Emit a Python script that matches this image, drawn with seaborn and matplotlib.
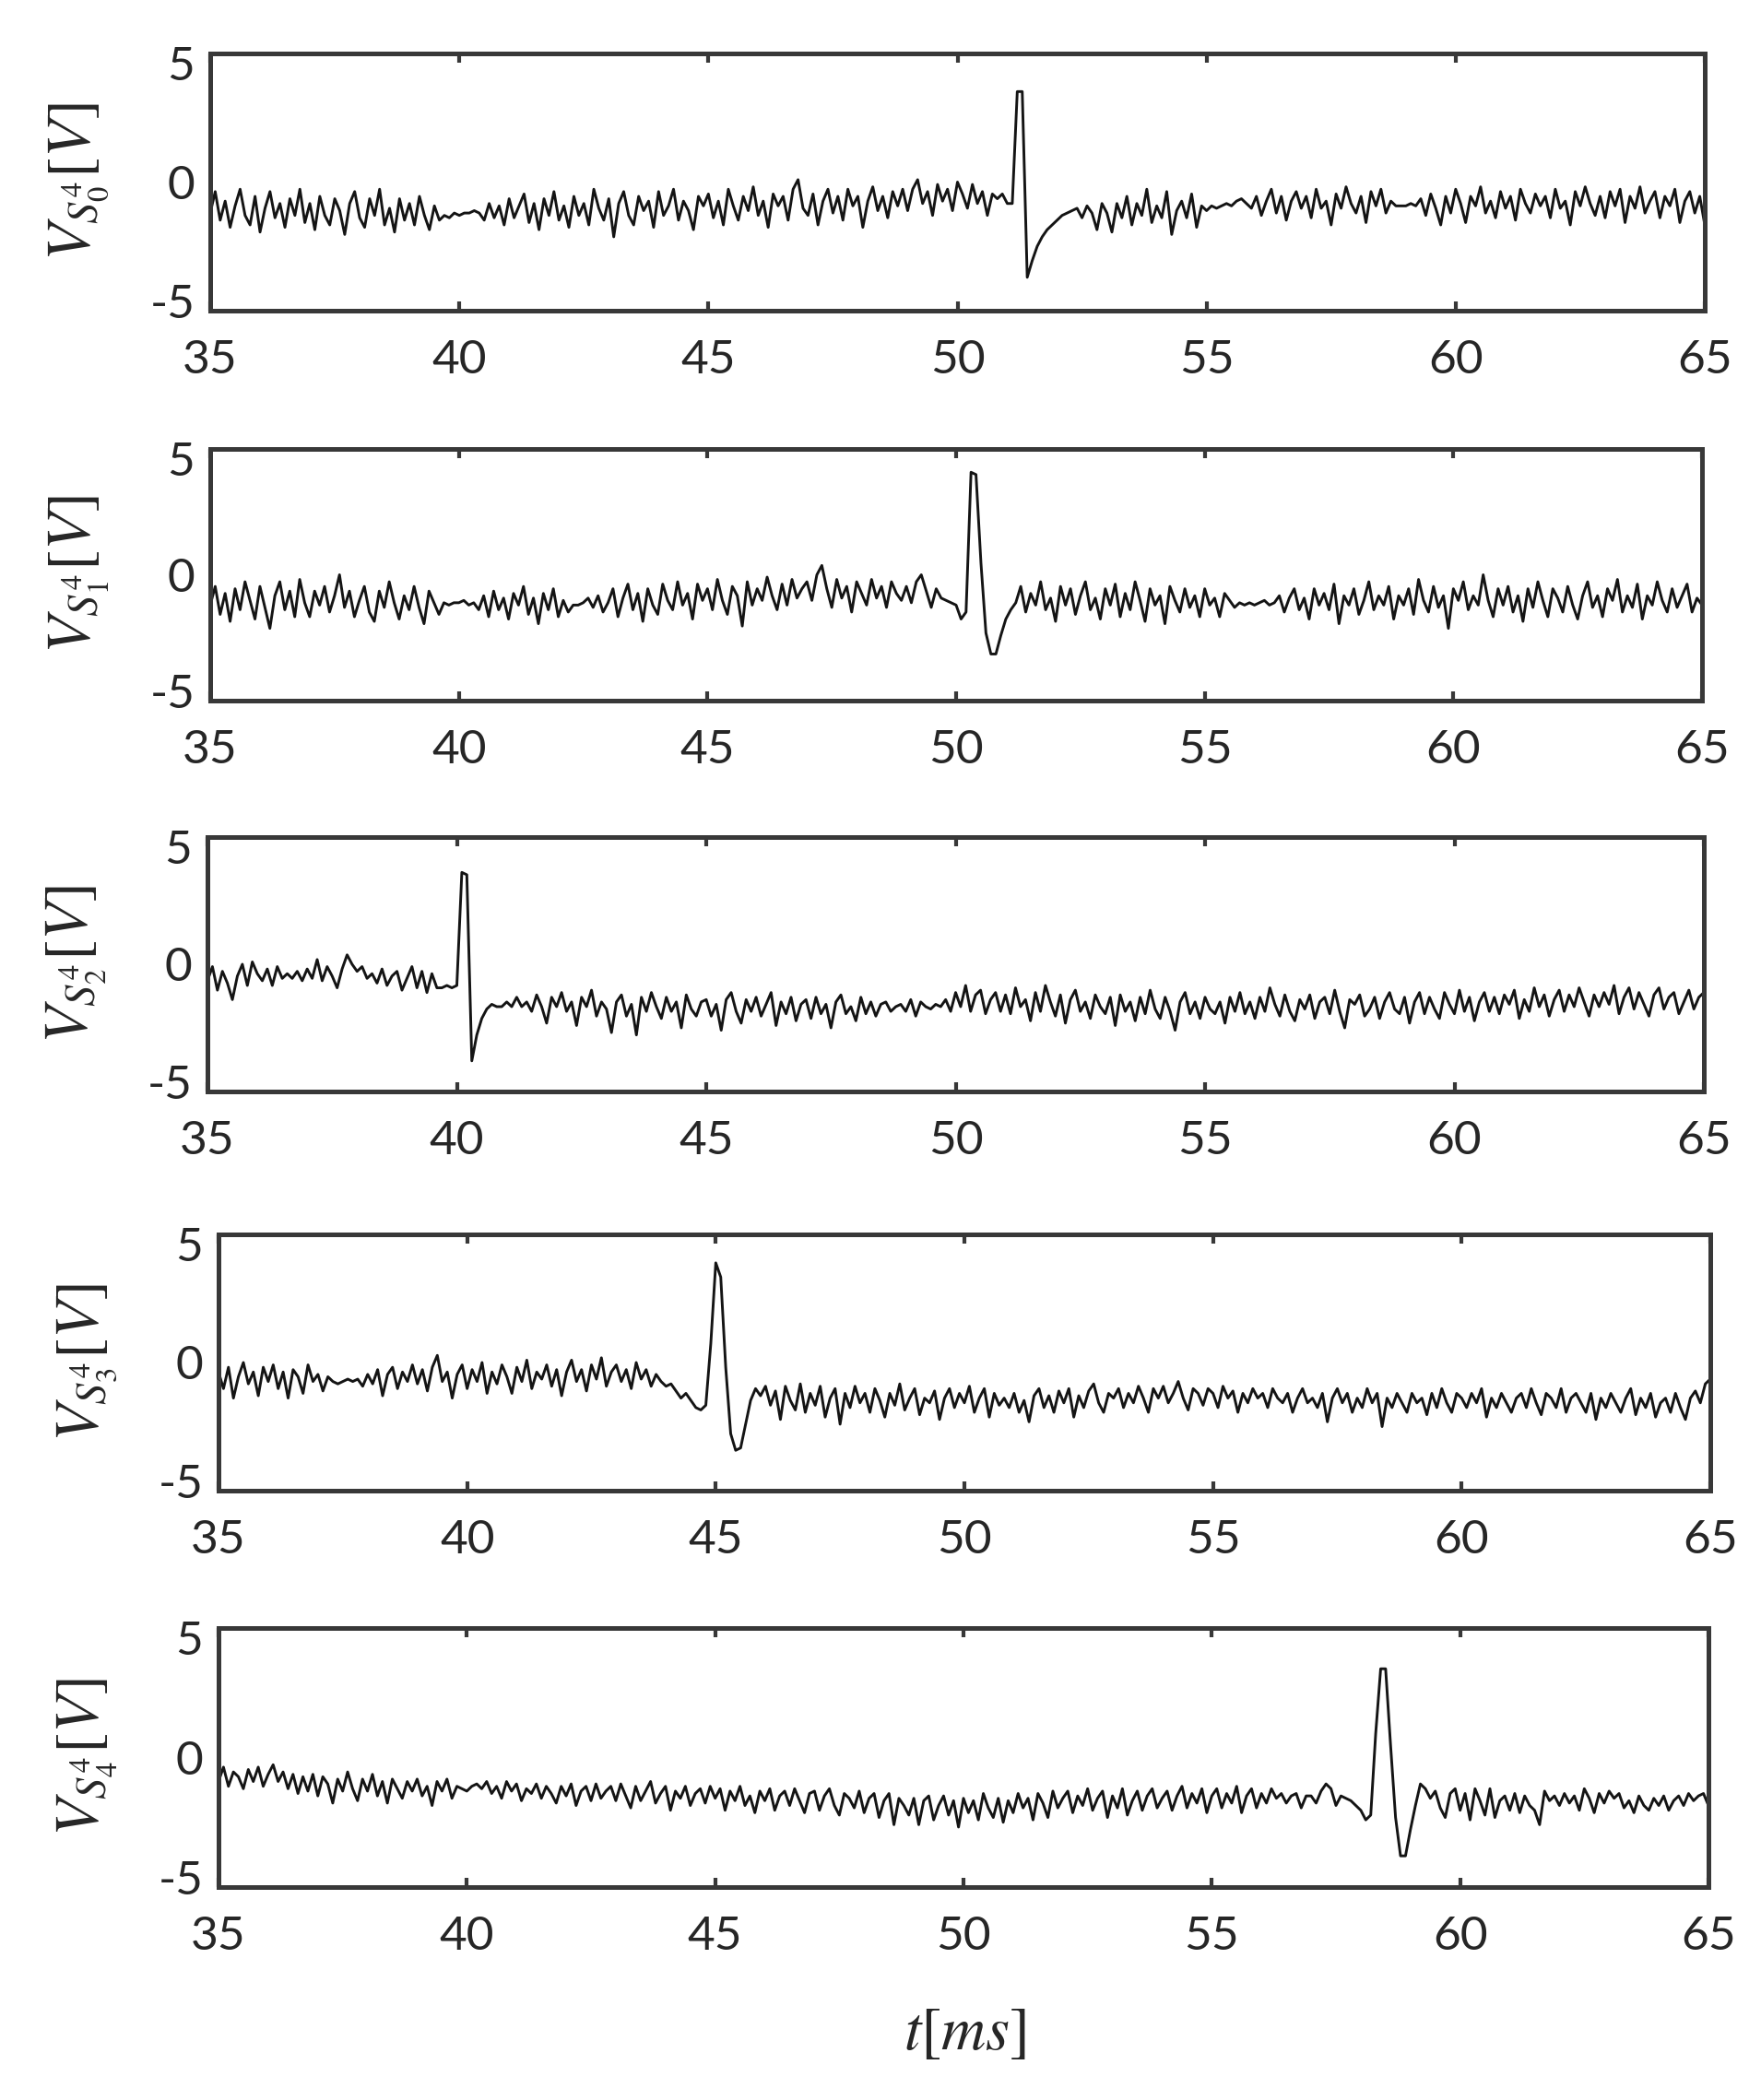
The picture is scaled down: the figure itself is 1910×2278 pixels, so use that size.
import numpy as np
import matplotlib
matplotlib.use("Agg")
import matplotlib.pyplot as plt
import seaborn as sns

# time axis in ms (sampled every 0.1 ms)
t = np.round(np.arange(350, 651) / 10, 1)

s0 = [-1.3,-0.4,-1.6,-0.8,-1.9,-1.0,-0.3,-1.4,-1.8,-0.6,-2.1,-1.1,-0.4,-1.5,-0.9,-1.9,-0.7,-1.4,-0.3,-1.7,
      -0.9,-2.0,-0.6,-1.4,-1.8,-0.7,-1.2,-2.2,-0.9,-0.4,-1.5,-1.9,-0.7,-1.4,-0.3,-1.8,-1.1,-2.1,-0.7,-1.6,
      -0.9,-1.8,-0.6,-1.4,-2.0,-1.0,-1.6,-1.4,-1.5,-1.3,-1.4,-1.3,-1.3,-1.2,-1.3,-1.6,-0.9,-1.5,-1.0,-1.8,
      -0.7,-1.5,-1.0,-0.5,-1.7,-0.9,-2.0,-0.7,-1.4,-0.4,-1.6,-1.0,-1.9,-0.6,-1.4,-0.9,-1.8,-0.3,-1.1,-1.6,
      -0.7,-2.3,-0.9,-0.4,-1.4,-1.8,-0.6,-1.2,-0.8,-1.9,-0.4,-1.4,-1.0,-0.3,-1.6,-0.8,-1.2,-2.0,-0.6,-1.0,
      -0.5,-1.5,-0.8,-1.8,-0.3,-1.0,-1.6,-0.6,-1.2,-0.2,-1.4,-0.8,-1.9,-0.5,-1.0,-0.6,-1.6,-0.3,0.1,-1.1,
      -1.4,-0.5,-1.8,-0.8,-0.3,-1.3,-0.6,-1.6,-0.3,-1.0,-0.6,-1.9,-0.8,-0.2,-1.2,-0.6,-1.5,-0.4,-1.0,-0.3,
      -1.2,-0.3,0.1,-0.9,-0.4,-1.4,-0.1,-0.8,-0.3,-1.2,0.0,-0.5,-1.1,-0.1,-0.9,-0.4,-1.4,-0.5,-0.7,-0.5,
      -0.9,-0.9,3.8,3.8,-4.0,-3.3,-2.7,-2.3,-2.0,-1.8,-1.6,-1.4,-1.3,-1.2,-1.1,-1.5,-1.0,-1.3,-2.0,-0.9,
      -1.3,-2.1,-0.9,-1.5,-0.6,-1.8,-0.9,-1.4,-0.3,-1.7,-1.0,-1.5,-0.4,-2.2,-1.2,-0.8,-1.5,-0.5,-1.9,-1.0,
      -1.2,-1.0,-1.1,-1.0,-0.9,-1.0,-0.8,-0.7,-0.9,-1.1,-0.6,-1.4,-0.8,-0.3,-1.3,-0.6,-1.6,-0.8,-0.4,-1.1,
      -0.6,-1.5,-0.3,-1.1,-0.8,-1.8,-0.5,-1.1,-0.2,-0.9,-1.3,-0.6,-1.7,-0.4,-1.0,-0.3,-1.3,-0.8,-1.0,-1.0,
      -1.0,-0.9,-1.0,-0.7,-1.4,-0.5,-1.1,-1.8,-0.6,-1.3,-0.3,-0.9,-1.7,-0.6,-1.0,-0.2,-1.3,-0.8,-1.5,-0.4,
      -1.1,-0.6,-1.6,-0.3,-0.9,-1.3,-0.5,-1.0,-0.6,-1.5,-0.3,-1.1,-0.8,-1.8,-0.4,-1.0,-0.2,-0.9,-1.4,-0.6,
      -1.5,-0.4,-1.0,-0.3,-1.7,-0.6,-1.1,-0.2,-1.3,-0.8,-0.4,-1.5,-0.6,-1.0,-0.3,-1.7,-0.8,-0.4,-1.3,-0.6,
      -1.8]

s1 = [-1.3,-0.5,-1.7,-0.8,-2.0,-0.6,-1.5,-0.3,-1.1,-1.9,-0.5,-1.4,-2.3,-0.9,-0.3,-1.5,-0.7,-1.8,-0.2,-1.2,
      -1.8,-0.7,-1.3,-0.5,-1.6,-0.9,0.0,-1.4,-0.7,-1.8,-1.1,-0.5,-1.6,-2.0,-0.7,-1.4,-0.3,-1.2,-1.9,-0.9,
      -1.5,-0.5,-1.4,-2.1,-0.7,-1.2,-1.7,-1.2,-1.3,-1.2,-1.2,-1.1,-1.3,-1.2,-1.5,-0.9,-1.8,-0.7,-1.5,-1.0,
      -1.9,-0.8,-1.3,-0.5,-1.7,-1.0,-2.1,-0.8,-1.5,-0.6,-1.8,-1.1,-1.6,-1.3,-1.3,-1.2,-1.0,-1.4,-0.9,-1.6,
      -1.2,-0.6,-1.8,-1.0,-0.4,-1.5,-0.8,-2.0,-0.6,-1.3,-1.7,-0.4,-1.1,-1.5,-0.3,-1.3,-0.8,-1.9,-0.4,-1.1,
      -0.6,-1.5,-0.2,-1.1,-1.7,-0.5,-0.9,-2.2,-0.3,-1.3,-0.6,-1.1,-0.1,-0.9,-1.5,-0.4,-1.3,-0.2,-1.0,-0.6,
      -0.3,-1.1,0.0,0.4,-0.6,-1.4,-0.2,-1.0,-0.5,-1.6,-0.3,-0.8,-1.3,-0.2,-1.0,-0.5,-1.4,-0.3,-0.8,-1.1,
      -0.5,-1.2,-0.3,0.0,-0.7,-1.4,-0.6,-1.0,-1.1,-1.2,-1.3,-1.9,-1.6,4.4,4.3,0.5,-2.5,-3.4,-3.4,-2.6,
      -1.9,-1.5,-1.2,-0.5,-1.6,-0.8,-1.3,-0.3,-1.5,-1.0,-2.0,-0.5,-1.3,-0.6,-1.7,-0.9,-0.3,-1.5,-1.0,-1.9,
      -0.6,-1.3,-0.4,-1.8,-0.8,-1.5,-0.3,-1.1,-2.0,-0.6,-1.3,-0.9,-2.1,-0.5,-1.1,-1.6,-0.6,-1.4,-0.9,-1.8,
      -0.6,-1.3,-1.0,-1.8,-0.8,-1.1,-1.4,-1.2,-1.3,-1.2,-1.3,-1.2,-1.1,-1.3,-1.2,-0.9,-1.6,-1.0,-0.6,-1.5,
      -1.0,-1.9,-0.6,-1.3,-0.8,-1.5,-0.4,-2.1,-0.9,-1.3,-0.6,-1.7,-1.1,-0.3,-1.5,-0.9,-1.3,-0.5,-1.9,-0.9,
      -1.3,-0.6,-1.7,-0.2,-1.1,-1.6,-0.5,-1.4,-0.9,-2.3,-0.6,-1.1,-0.3,-1.5,-0.9,-1.3,0.0,-1.1,-1.8,-0.6,
      -1.3,-0.5,-1.6,-0.9,-2.0,-0.6,-1.4,-0.3,-1.1,-1.8,-0.6,-1.0,-1.6,-0.5,-1.3,-1.9,-0.9,-0.3,-1.4,-0.9,
      -1.8,-0.6,-1.1,-0.2,-1.6,-0.9,-1.4,-0.4,-1.9,-0.9,-1.3,-0.3,-1.1,-1.6,-0.6,-1.4,-0.9,-0.4,-1.6,-1.0,
      -1.3]

s2 = [-0.7,-0.1,-1.1,-0.3,-0.8,-1.5,-0.5,0.0,-0.9,0.1,-0.4,-0.7,-0.2,-0.9,-0.1,-0.6,-0.4,-0.6,-0.3,-0.7,
      -0.2,-0.6,0.2,-0.7,-0.1,-0.5,-1.0,-0.2,0.4,0.0,-0.3,-0.1,-0.6,-0.4,-0.8,-0.2,-0.9,-0.5,-0.3,-1.1,
      -0.6,-0.1,-1.0,-0.3,-1.2,-0.4,-1.0,-1.0,-0.9,-1.0,-0.9,3.9,3.8,-4.1,-3.0,-2.3,-1.9,-1.7,-1.8,-1.8,
      -1.6,-1.8,-1.4,-1.8,-1.6,-2.0,-1.3,-1.8,-2.5,-1.4,-1.8,-1.2,-2.0,-1.6,-2.6,-1.4,-1.8,-1.1,-2.2,-1.6,
      -1.9,-2.9,-1.6,-1.3,-2.2,-1.7,-3.0,-1.4,-2.0,-1.2,-1.8,-2.3,-1.4,-2.0,-1.6,-2.7,-1.3,-1.9,-2.2,-1.6,
      -1.5,-2.2,-1.7,-2.8,-1.5,-1.2,-2.0,-2.5,-1.5,-2.0,-1.4,-2.2,-1.7,-1.2,-2.6,-1.6,-2.1,-1.4,-2.4,-1.7,
      -1.5,-2.3,-1.4,-2.1,-1.7,-2.7,-1.6,-1.3,-2.1,-1.8,-2.4,-1.4,-2.1,-1.6,-2.2,-1.7,-1.6,-2.0,-1.8,-1.7,
      -2.0,-1.5,-2.2,-1.6,-1.8,-1.9,-1.7,-1.8,-1.5,-2.0,-1.2,-1.8,-0.9,-2.0,-1.3,-1.1,-2.1,-1.5,-1.2,-2.0,
      -1.3,-2.1,-1.0,-1.8,-1.5,-2.4,-1.2,-2.0,-0.9,-1.6,-2.2,-1.3,-2.5,-1.5,-1.1,-2.0,-1.6,-2.3,-1.3,-1.8,
      -2.1,-1.4,-2.6,-1.3,-2.0,-1.6,-2.4,-1.4,-2.1,-1.1,-1.9,-2.3,-1.4,-2.0,-2.8,-1.6,-1.2,-2.1,-1.6,-2.3,
      -1.4,-1.9,-2.1,-1.6,-2.5,-1.4,-2.0,-1.2,-2.1,-1.6,-2.3,-1.4,-2.0,-1.0,-1.7,-2.2,-1.3,-2.0,-2.4,-1.5,
      -1.9,-1.3,-2.3,-1.6,-1.4,-2.1,-1.1,-2.0,-2.7,-1.5,-1.7,-1.3,-2.2,-1.9,-1.4,-2.3,-1.6,-1.2,-1.9,-2.1,
      -1.4,-2.5,-1.6,-1.2,-2.1,-1.4,-1.9,-2.3,-1.2,-1.7,-2.1,-1.1,-2.0,-1.4,-2.4,-1.6,-1.2,-2.0,-1.4,-2.1,
      -1.3,-1.7,-1.1,-2.3,-1.5,-2.0,-1.0,-1.8,-1.3,-2.2,-1.5,-1.1,-2.0,-1.3,-1.8,-1.0,-1.6,-2.2,-1.3,-1.8,
      -1.2,-1.7,-0.9,-2.1,-1.4,-1.0,-1.9,-1.2,-1.7,-2.2,-1.3,-1.0,-1.9,-1.4,-1.2,-2.1,-1.6,-1.1,-1.9,-1.4,
      -1.2]

s3 = [-0.4,-1.1,-0.2,-1.5,-0.6,0.0,-0.9,-0.4,-1.4,-0.2,-0.8,-0.1,-1.1,-0.4,-1.5,-0.3,-0.6,-1.3,-0.1,-0.8,
      -0.5,-1.2,-0.6,-0.8,-0.9,-0.8,-0.7,-0.8,-0.7,-1.0,-0.5,-0.9,-0.3,-1.4,-0.5,-0.2,-1.1,-0.4,-0.8,-0.1,
      -0.9,-0.3,-1.2,-0.2,0.3,-0.8,-0.4,-1.5,-0.5,-0.1,-1.1,-0.3,-0.8,0.0,-1.3,-0.4,-0.9,-0.1,-0.6,-1.3,
      -0.2,-0.8,0.1,-1.1,-0.4,-0.7,-0.1,-1.0,-0.3,-1.4,-0.4,0.1,-0.8,-0.3,-1.2,-0.1,-0.7,0.2,-1.0,-0.4,
      -0.1,-0.8,-0.3,-1.1,0.0,-0.7,-0.3,-1.0,-0.5,-0.8,-1.0,-0.9,-1.2,-1.5,-1.3,-1.6,-1.9,-2.0,-1.8,0.8,
      4.2,3.6,-0.2,-3.0,-3.7,-3.6,-2.6,-1.6,-1.1,-1.4,-1.0,-1.8,-1.2,-2.4,-1.0,-1.6,-2.0,-0.9,-2.1,-1.3,
      -1.8,-1.0,-2.3,-1.5,-1.1,-2.6,-1.3,-1.9,-1.0,-1.7,-1.3,-2.1,-1.1,-1.6,-2.3,-1.3,-1.8,-0.9,-2.0,-1.5,
      -1.1,-2.2,-1.5,-1.7,-1.2,-2.4,-1.5,-1.1,-1.9,-1.3,-1.7,-1.0,-2.1,-1.5,-1.1,-2.3,-1.3,-1.8,-1.5,-1.9,
      -1.3,-2.1,-1.6,-2.5,-1.4,-1.1,-1.9,-1.4,-2.1,-1.2,-1.7,-1.1,-2.3,-1.4,-1.9,-1.2,-0.9,-1.7,-2.1,-1.3,
      -1.5,-1.1,-1.9,-1.3,-1.7,-1.0,-1.5,-2.1,-1.1,-1.5,-1.0,-1.7,-1.3,-0.8,-1.5,-2.0,-1.1,-1.3,-1.8,-1.1,
      -1.3,-1.9,-1.0,-1.5,-1.2,-2.1,-1.3,-1.7,-1.1,-1.5,-1.3,-1.9,-1.1,-1.5,-1.7,-1.3,-2.1,-1.5,-1.1,-1.7,
      -1.5,-1.9,-1.3,-2.5,-1.5,-1.1,-1.7,-1.3,-2.1,-1.5,-1.9,-1.1,-1.7,-1.3,-2.7,-1.5,-1.9,-1.3,-1.7,-2.1,
      -1.3,-1.7,-1.5,-2.2,-1.3,-1.9,-1.1,-1.7,-2.1,-1.3,-1.5,-1.9,-1.3,-1.7,-1.1,-2.3,-1.5,-1.9,-1.3,-1.7,
      -2.1,-1.5,-1.3,-1.9,-1.1,-1.7,-2.2,-1.3,-1.5,-1.9,-1.1,-2.1,-1.5,-1.3,-1.7,-2.1,-1.3,-2.4,-1.5,-1.9,
      -1.3,-1.7,-2.1,-1.5,-1.1,-2.2,-1.5,-1.9,-1.3,-2.3,-1.7,-1.5,-2.1,-1.3,-1.9,-2.4,-1.5,-1.2,-1.7,-0.9,
      -0.7]

s4 = [-1.0,-0.4,-1.2,-0.6,-0.8,-1.3,-0.5,-1.0,-0.4,-1.2,-0.7,-0.3,-1.0,-0.6,-1.3,-0.7,-1.5,-0.8,-1.4,-0.7,
      -1.6,-0.8,-1.1,-1.9,-0.9,-1.4,-0.6,-1.3,-1.8,-0.9,-1.4,-0.7,-1.6,-1.0,-1.9,-0.9,-1.3,-1.7,-1.0,-1.4,
      -0.9,-1.6,-1.2,-2.0,-1.0,-1.4,-0.9,-1.7,-1.2,-1.3,-1.4,-1.2,-1.1,-1.3,-1.0,-1.5,-1.2,-1.7,-1.0,-1.4,
      -1.1,-1.8,-1.3,-1.5,-1.1,-1.7,-1.2,-1.5,-1.9,-1.2,-1.6,-1.1,-2.0,-1.4,-1.2,-1.8,-1.1,-1.7,-1.4,-1.2,
      -1.8,-1.1,-1.6,-2.1,-1.2,-1.8,-1.4,-1.0,-1.9,-1.5,-1.2,-2.2,-1.4,-1.7,-1.2,-2.0,-1.5,-1.3,-1.9,-1.2,
      -1.7,-1.3,-2.2,-1.4,-1.8,-1.2,-2.0,-1.6,-2.3,-1.4,-1.8,-1.3,-2.2,-1.6,-1.4,-2.0,-1.3,-1.8,-2.3,-1.5,
      -1.4,-2.2,-1.6,-1.3,-2.0,-2.4,-1.5,-1.7,-2.1,-1.4,-2.3,-1.7,-1.5,-2.5,-1.8,-1.5,-2.8,-1.7,-2.0,-2.4,
      -1.7,-2.8,-1.8,-1.6,-2.6,-2.0,-1.6,-2.4,-1.8,-2.9,-1.7,-2.3,-1.8,-2.6,-1.5,-2.1,-2.5,-1.7,-2.7,-1.8,
      -2.3,-1.5,-2.1,-1.7,-2.6,-1.5,-1.9,-2.5,-1.4,-2.1,-1.7,-1.4,-2.3,-1.6,-2.0,-1.3,-2.2,-1.7,-1.4,-2.5,
      -1.6,-2.1,-1.3,-2.4,-1.8,-1.4,-2.2,-1.6,-1.3,-2.1,-1.7,-1.4,-2.2,-1.6,-1.2,-2.1,-1.5,-1.9,-1.3,-2.3,
      -1.6,-1.3,-2.1,-1.5,-1.9,-1.2,-2.3,-1.6,-1.3,-2.1,-1.5,-1.9,-1.3,-1.7,-1.5,-1.9,-1.6,-1.5,-2.1,-1.6,
      -1.6,-1.9,-1.4,-1.1,-1.3,-2.0,-1.6,-1.7,-1.8,-2.0,-2.2,-2.6,-2.4,1.0,3.7,3.7,0.5,-2.5,-4.1,-4.1,
      -3.0,-2.0,-1.1,-1.3,-1.7,-1.4,-2.1,-2.5,-1.5,-1.3,-2.2,-1.5,-2.6,-1.3,-1.8,-2.4,-1.3,-2.5,-1.8,-1.6,
      -2.2,-1.5,-2.3,-1.6,-2.0,-2.2,-2.8,-1.4,-1.8,-1.6,-2.0,-1.5,-1.9,-1.6,-2.2,-1.3,-1.7,-2.3,-1.5,-1.9,
      -1.4,-1.7,-1.5,-2.1,-1.8,-2.3,-1.6,-2.0,-2.2,-1.7,-2.0,-1.6,-2.2,-1.8,-1.6,-2.0,-1.5,-1.8,-1.6,-1.5,
      -2.0]

signals = [s0, s1, s2, s3, s4]
ylabels = [r"$V_{S_0^4}[V]$", r"$V_{S_1^4}[V]$", r"$V_{S_2^4}[V]$",
           r"$V_{S_3^4}[V]$", r"$V_{S_4^4}[V]$"]
xticks = [35, 40, 45, 50, 55, 60, 65]
yticks = [-5, 0, 5]

sns.set_style("white")
plt.rcParams["font.family"] = ["Lato", "DejaVu Sans"]
plt.rcParams["mathtext.fontset"] = "stix"
plt.rcParams["axes.unicode_minus"] = False

W, H = 1910, 2278
fig = plt.figure(figsize=(W / 100, H / 100), dpi=100)

# panel boxes in pixels: left, right, top, bottom
boxes = [(228, 1849, 58, 337),
         (228, 1846, 487, 760),
         (225, 1848, 908, 1184),
         (237, 1855, 1339, 1617),
         (237, 1853, 1766, 2047)]

frame = "#383838"
for sig, lab, (l, r, tp, bt) in zip(signals, ylabels, boxes):
    ax = fig.add_axes([l / W, 1 - bt / H, (r - l) / W, (bt - tp) / H])
    sns.lineplot(x=t, y=sig, ax=ax, color="#141414", lw=2.1, estimator=None)
    ax.set_xlim(35, 65)
    ax.set_ylim(-5.4, 5.4)
    ax.set_xticks(xticks)
    ax.set_yticks(yticks)
    ax.tick_params(axis="x", direction="in", top=True, bottom=True, length=7,
                   width=3, color=frame, pad=22, labelsize=37)
    ax.tick_params(axis="y", length=0, pad=12, labelsize=37)
    for sp in ax.spines.values():
        sp.set_visible(True)
        sp.set_color(frame)
        sp.set_linewidth(3.6)
    ax.set_ylabel(lab, fontsize=48, labelpad=0)
    ax.yaxis.set_label_coords(-0.066, 0.5)
    ax.set_xlabel("")

fig.text(0.548, 0.032, r"$t[ms]$", fontsize=48, ha="center", va="center")

fig.savefig("out.png", dpi=100, facecolor="white")
